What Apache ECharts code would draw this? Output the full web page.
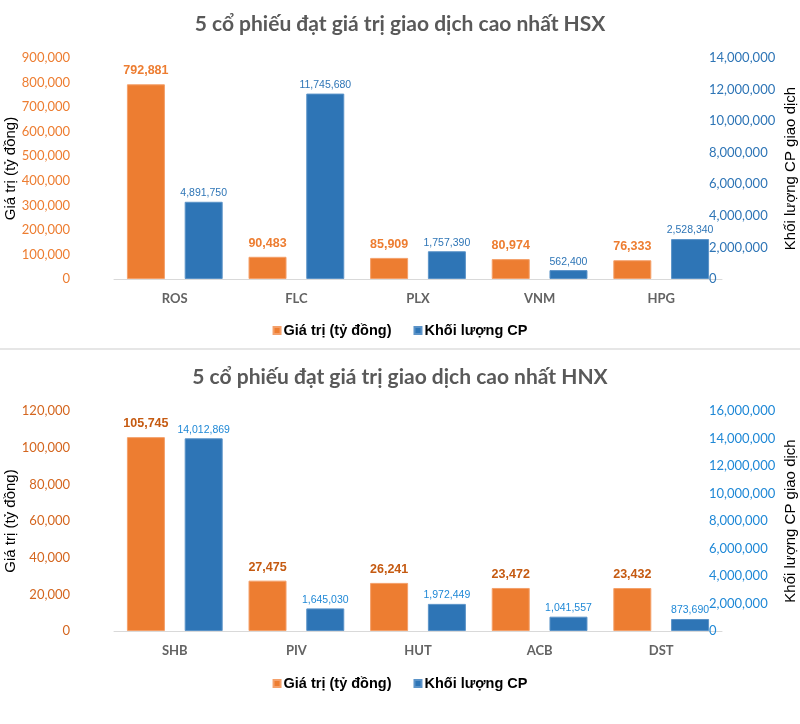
<!DOCTYPE html>
<html><head><meta charset="utf-8">
<script src="https://cdn.jsdelivr.net/npm/echarts@6/dist/echarts.min.js"></script>
<style>
html,body{margin:0;padding:0;background:#fff;}
#chartTop{width:800px;height:348px;}
#sep{width:800px;height:2px;background:#e6e6e6;}
#chartBottom{width:800px;height:374px;}
</style></head><body>
<div id="chartTop"></div><div id="sep"></div><div id="chartBottom"></div>
<script>
// ---- data ----
const seriesNames = ['Giá trị (tỷ đồng)', 'Khối lượng CP'];
const leftAxisName = 'Giá trị (tỷ đồng)';
const rightAxisName = 'Khối lượng CP giao dịch';

const hsxTitle = '5 cổ phiếu đạt giá trị giao dịch cao nhất HSX';
const hsxCats = ['ROS', 'FLC', 'PLX', 'VNM', 'HPG'];
const hsxValue = [792881, 90483, 85909, 80974, 76333];
const hsxVolume = [4891750, 11745680, 1757390, 562400, 2528340];
const hsxLeftAxis = [0, 900000, 100000];
const hsxRightAxis = [0, 14000000, 2000000];

const hnxTitle = '5 cổ phiếu đạt giá trị giao dịch cao nhất HNX';
const hnxCats = ['SHB', 'PIV', 'HUT', 'ACB', 'DST'];
const hnxValue = [105745, 27475, 26241, 23472, 23432];
const hnxVolume = [14012869, 1645030, 1972449, 1041557, 873690];
const hnxLeftAxis = [0, 120000, 20000];
const hnxRightAxis = [0, 16000000, 2000000];

// ---- styles ----
const fmt = v => Number(v).toLocaleString('en-US');
const ARIAL = "'Liberation Sans',Arial,sans-serif";
const TITLEF = "Lato,'Open Sans',sans-serif";

function build(title, cats, vals, vols, la, ra, c) {
  return {
    animation: false,
    title: {
      text: title, left: 'center', top: c.titleTop, padding: 0,
      textStyle: {fontFamily: TITLEF, fontSize: 21, fontWeight: 'bold', color: '#595959'}
    },
    legend: {
      data: seriesNames, left: 'center', top: c.legendTop, padding: 0,
      itemWidth: 7, itemHeight: 7, itemGap: 22, icon: 'rect',
      textStyle: {fontFamily: ARIAL, fontSize: 14.5, fontWeight: 'bold', color: '#000', padding: [0,0,0,-2]}
    },
    grid: {left: 114, right: 78, top: c.gridTop, height: c.gridH, containLabel: false, outerBoundsMode: 'none'},
    xAxis: {
      type: 'category', data: cats,
      axisLine: {lineStyle: {color: '#d9d9d9', width: 1}},
      axisTick: {show: false},
      axisLabel: {fontFamily: TITLEF, fontSize: 13, fontWeight: 'bold', color: '#636363', margin: 13}
    },
    yAxis: [{
      type: 'value', min: la[0], max: la[1], interval: la[2],
      name: leftAxisName, nameLocation: 'middle', nameGap: 96, nameMoveOverlap: false,
      nameTextStyle: {fontFamily: ARIAL, fontSize: 15, color: '#000'},
      splitLine: {show: false}, axisLine: {show: false}, axisTick: {show: false},
      axisLabel: {fontFamily: TITLEF, fontSize: 13, color: c.leftLbl, margin: 44, formatter: fmt}
    }, {
      type: 'value', min: ra[0], max: ra[1], interval: ra[2],
      name: rightAxisName, nameLocation: 'middle', nameGap: 61, nameRotate: 90, nameMoveOverlap: false,
      nameTextStyle: {fontFamily: ARIAL, fontSize: 15, color: '#000'},
      splitLine: {show: false}, axisLine: {show: false}, axisTick: {show: false},
      axisLabel: {fontFamily: TITLEF, fontSize: 13, color: c.rightLbl, margin: -13, formatter: fmt}
    }],
    series: [{
      name: seriesNames[0], type: 'bar', yAxisIndex: 0, data: vals,
      barWidth: 38, barGap: '52%',
      itemStyle: {color: '#ED7D31', borderColor: '#F4A06A', borderWidth: 1},
      label: {show: true, position: 'top', distance: 7, formatter: p => fmt(p.value),
        fontFamily: ARIAL, fontSize: 12.5, fontWeight: 'bold', color: c.orangeLbl}
    }, {
      name: seriesNames[1], type: 'bar', yAxisIndex: 1, data: vols,
      barWidth: 38, barGap: '52%',
      itemStyle: {color: '#2E75B6', borderColor: '#5B93C8', borderWidth: 1},
      label: {show: true, position: 'top', distance: 3, formatter: p => fmt(p.value),
        fontFamily: ARIAL, fontSize: 10.5, color: c.blueLbl}
    }]
  };
}

const chartA = echarts.init(document.getElementById('chartTop'), null, {renderer: 'canvas'});
chartA.setOption(build(hsxTitle, hsxCats, hsxValue, hsxVolume, hsxLeftAxis, hsxRightAxis, {
  titleTop: 14, gridTop: 58, gridH: 221, legendTop: 323,
  leftLbl: '#ED7D31', rightLbl: '#2E75B6', orangeLbl: '#ED7D31', blueLbl: '#2E75B6'
}));
const chartB = echarts.init(document.getElementById('chartBottom'), null, {renderer: 'canvas'});
chartB.setOption(build(hnxTitle, hnxCats, hnxValue, hnxVolume, hnxLeftAxis, hnxRightAxis, {
  titleTop: 17, gridTop: 61, gridH: 220, legendTop: 326,
  leftLbl: '#D4661F', rightLbl: '#1F88D6', orangeLbl: '#C55A11', blueLbl: '#1F88D6'
}));
</script></body></html>
